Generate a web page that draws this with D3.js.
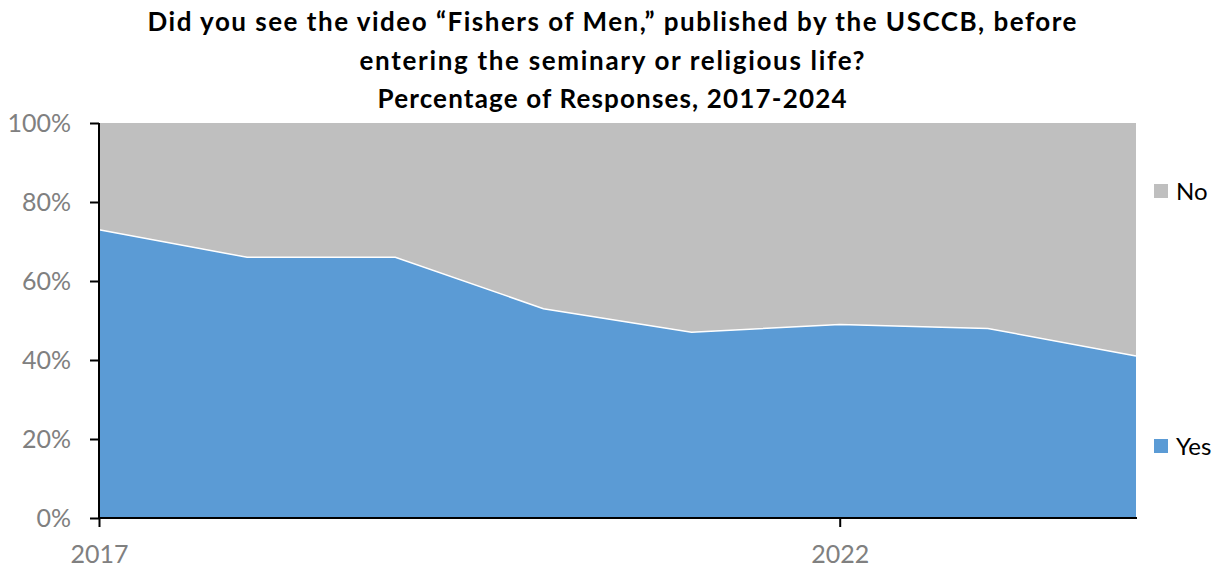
<!DOCTYPE html>
<html><head><meta charset="utf-8">
<script src="https://cdn.jsdelivr.net/npm/d3@7"></script>
<style>body{margin:0;background:#fff}svg{display:block}</style>
</head><body>
<svg id="c" width="1225" height="568"></svg>
<script>
const years = [2017, 2018, 2019, 2020, 2021, 2022, 2023, 2024];
const yesValues = [73, 66, 66, 53, 47, 49, 48, 41];
const noValues = [27, 34, 34, 47, 53, 51, 52, 59];
const yTicks = [0, 20, 40, 60, 80, 100];
const xTickLabels = [2017, 2022];
const seriesNames = ["Yes", "No"];
const colors = {Yes: "#5B9BD5", No: "#BFBFBF"};
const titleLines = [
  "Did you see the video \u201cFishers of Men,\u201d published by the USCCB, before",
  "entering the seminary or religious life?",
  "Percentage of Responses, 2017-2024"
];
const titleWidths = [929, 505, 469];

const svg = d3.select("#c");
const font = "Lato, 'Open Sans', sans-serif";
const x = d3.scaleLinear().domain([2017, 2024]).range([99, 1136]);
const y = d3.scaleLinear().domain([0, 100]).range([518, 123]);

const table = years.map((yr, i) => ({year: yr, Yes: yesValues[i], No: noValues[i]}));
const stack = d3.stack().keys(seriesNames)(table);
const area = d3.area().x(d => x(d.data.year)).y0(d => y(d[0])).y1(d => y(d[1]));

svg.selectAll("path.a").data(stack).join("path")
  .attr("d", area).attr("fill", d => colors[d.key]);
svg.append("path")
  .attr("d", d3.line().x(d => x(d.data.year)).y(d => y(d[1]))(stack[0]))
  .attr("fill", "none").attr("stroke", "#fff").attr("stroke-width", 1.5);

// Y axis
const ya = svg.append("g").attr("transform", "translate(99,0)")
  .call(d3.axisLeft(y).tickValues(yTicks).tickFormat(d => d + "%").tickSize(9).tickPadding(19));
ya.select(".domain").attr("stroke", "#000").attr("stroke-width", 2).attr("d", `M0,${y(100)}V${y(0)}`);
ya.selectAll(".tick line").attr("stroke", "#000").attr("stroke-width", 2);
ya.selectAll("text").attr("font-family", font).attr("font-size", 25).attr("fill", "#808080");

// X axis
const xa = svg.append("g").attr("transform", "translate(0,518)")
  .call(d3.axisBottom(x).tickValues(xTickLabels).tickFormat(d3.format("d")).tickSize(9).tickPadding(18));
xa.select(".domain").attr("stroke", "#000").attr("stroke-width", 2).attr("d", `M${x(2017)},0H${x(2024)+1}`);
xa.selectAll(".tick line").attr("stroke", "#000").attr("stroke-width", 2);
xa.selectAll("text").attr("font-family", font).attr("font-size", 25).attr("fill", "#808080");

// Title
svg.append("g").selectAll("text").data(titleLines).join("text")
  .attr("x", 612).attr("y", (d, i) => 31 + i * 38.5)
  .attr("text-anchor", "middle").attr("font-family", font)
  .attr("font-weight", "bold").attr("font-size", 26).attr("fill", "#000")
  .attr("textLength", (d, i) => titleWidths[i]).attr("lengthAdjust", "spacing")
  .text(d => d);

// Legend
const legendY = {No: 191, Yes: 446};
const lg = svg.append("g").selectAll("g").data(["No", "Yes"]).join("g")
  .attr("transform", d => `translate(1154,${legendY[d]})`);
lg.append("rect").attr("x", 0).attr("y", -7).attr("width", 14).attr("height", 14).attr("fill", d => colors[d]);
lg.append("text").attr("x", 22).attr("y", 9).attr("font-family", font).attr("font-size", 24)
  .attr("fill", "#000").text(d => d);
</script>
</body></html>
